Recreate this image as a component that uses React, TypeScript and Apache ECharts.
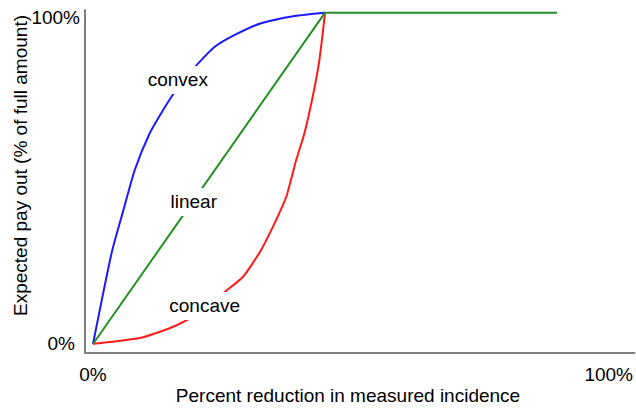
import React, { useEffect, useRef } from "react";
import * as echarts from "echarts";

// Data (x: % reduction, y: % pay out)
const convexData: [number, number][] = [
  [0, 0], [3.6, 27.4], [5.9, 40.4], [8.1, 52.5], [11, 63.6], [13.6, 70.6],
  [15.9, 76.2], [18, 80.5], [20.4, 84.7], [23.6, 89.7], [27.5, 93.3],
  [32.6, 96.8], [39.1, 99], [45, 100],
];
const concaveData: [number, number][] = [
  [0, 0], [1.4, 0.3], [5, 0.9], [9.1, 1.8], [13, 3.7], [16, 5.5], [18.8, 7.7],
  [22, 11], [25.2, 15.3], [29.1, 20.3], [32.6, 28.4], [35.5, 37.4],
  [37.5, 44.5], [39.4, 55.5], [41, 63.6], [42.6, 74.6], [43.9, 85.7], [45, 100],
];
const linearData: [number, number][] = [[0, 0], [45, 100], [90, 100]];

const curveLabels: [number, number, string][] = [
  [16.44, 79.7, "convex"],
  [19.54, 42.86, "linear"],
  [21.66, 11.47, "concave"],
];

const xTicks = [0, 100];
const yTicks = [0, 100];
const xTitle = "Percent reduction in measured incidence";
const yTitle = "Expected pay out (% of full amount)";

const FONT = "'Liberation Sans', Arial, sans-serif";

function measure(text: string, size: number): number {
  const c = document.createElement("canvas").getContext("2d");
  if (!c) return text.length * size * 0.52;
  c.font = `${size}px ${FONT}`;
  return c.measureText(text).width;
}

export default function App() {
  const ref = useRef<HTMLDivElement>(null);
  useEffect(() => {
    if (!ref.current) return;
    const chart = echarts.init(ref.current, undefined, { renderer: "svg" });
    const axisLine = { show: true, onZero: false, lineStyle: { color: "#808080", width: 2 } };
    const markData = curveLabels.map(([x, y, text]) => ({
      coord: [x, y],
      value: text,
      symbol: "rect",
      symbolSize: [measure(text, 19) + 4, 28],
      itemStyle: { color: "#ffffff", borderWidth: 0 },
      label: {
        show: true,
        position: "inside",
        formatter: text,
        fontSize: 19,
        color: "#000000",
        fontFamily: FONT,
      },
    }));
    chart.setOption({
      animation: false,
      backgroundColor: "#ffffff",
      textStyle: { fontFamily: FONT },
      grid: { left: 85, right: 0, top: 10, bottom: 56, containLabel: false },
      xAxis: {
        type: "value",
        min: -1.55,
        max: 105,
        axisLine,
        axisTick: { show: false },
        splitLine: { show: false },
        axisLabel: {
          customValues: xTicks,
          formatter: (v: number) => v + "%",
          fontSize: 19,
          color: "#000",
          fontFamily: FONT,
          margin: 12,
        },
      },
      yAxis: {
        type: "value",
        min: -2.72,
        max: 100.8,
        axisLine,
        axisTick: { show: false },
        splitLine: { show: false },
        axisLabel: {
          customValues: yTicks,
          formatter: (v: number) => (v === 100 ? "{t|100%}" : "{b|" + v + "%}"),
          fontSize: 19,
          color: "#000",
          fontFamily: FONT,
          margin: 5,
          rich: {
            t: { fontSize: 19, color: "#000", fontFamily: FONT, padding: [9, 0, 0, 0] },
            b: { fontSize: 19, color: "#000", fontFamily: FONT, padding: [0, 5, 0, 0] },
          },
        },
      },
      series: [
        {
          type: "line",
          data: convexData,
          symbol: "none",
          smooth: 0.2,
          lineStyle: { color: "#1a1aff", width: 2 },
          z: 2,
        },
        {
          type: "line",
          data: concaveData,
          symbol: "none",
          smooth: 0.2,
          lineStyle: { color: "#ff1a1a", width: 2 },
          z: 2,
        },
        {
          type: "line",
          data: linearData,
          symbol: "none",
          lineStyle: { color: "#229122", width: 2 },
          z: 3,
          markPoint: {
            silent: true,
            z: 20,
            data: markData,
          },
        },
      ],
      graphic: [
        {
          type: "text",
          x: 348,
          y: 395,
          style: {
            text: xTitle,
            fontSize: 19,
            fontFamily: FONT,
            fill: "#000",
            textAlign: "center",
            textVerticalAlign: "middle",
          },
        },
        {
          type: "text",
          x: 20,
          y: 165.5,
          rotation: Math.PI / 2,
          style: {
            text: yTitle,
            fontSize: 19,
            fontFamily: FONT,
            fill: "#000",
            textAlign: "center",
            textVerticalAlign: "middle",
          },
        },
      ],
    });
    return () => chart.dispose();
  }, []);
  return (
    <div
      ref={ref}
      style={{ position: "fixed", left: 0, top: 0, width: 636, height: 409, background: "#fff" }}
    />
  );
}
